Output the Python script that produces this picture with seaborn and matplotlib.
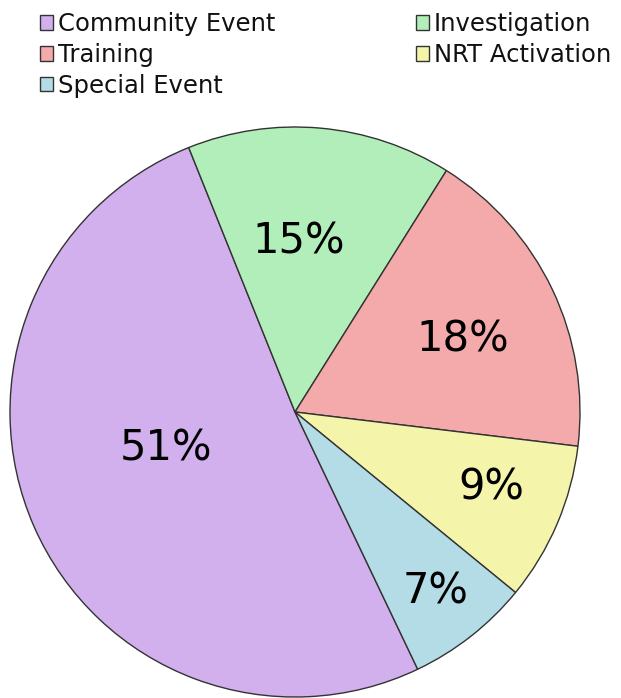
import numpy as np
import matplotlib.pyplot as plt
import seaborn as sns
from matplotlib.patches import Patch

# slice data (clockwise from the bottom-right edge of "Community Event")
categories = ["Community Event", "Investigation", "Training", "NRT Activation", "Special Event"]
shares = [51, 15, 18, 9, 7]
colors = ["#d1b0ed", "#b1eeb9", "#f4aaaa", "#f4f4aa", "#b4dce6"]

# percent label placement: radius fraction and angle nudge (degrees)
label_dist = [0.47, 0.60, 0.64, 0.74, 0.80]
label_nudge = [-8.0, 4.0, -2.0, 2.0, 0.0]

sns.set_theme(style="white")
plt.rcParams["font.family"] = ["DejaVu Sans"]

fig = plt.figure(figsize=(6.21, 6.98), dpi=100)
ax = fig.add_axes([10 / 621, 1 / 698, 570 / 621, 570 / 698])

palette = sns.color_palette(colors)
wedges, _ = ax.pie(shares, colors=palette, startangle=-64.5, counterclock=False,
                   radius=1, wedgeprops=dict(edgecolor="#333333", linewidth=1))

for w, s, d, n in zip(wedges, shares, label_dist, label_nudge):
    mid = np.deg2rad((w.theta1 + w.theta2) / 2 + n)
    ax.text(d * np.cos(mid), d * np.sin(mid), f"{s}%", ha="center", va="center",
            fontsize=30, color="black")

ax.set_xlim(-1.0, 1.0)
ax.set_ylim(-1.0, 1.0)
ax.set_aspect("auto")
ax.axis("off")

# legend filled row by row
order = [0, 2, 4, 1, 3]
handles = [Patch(facecolor=colors[i], edgecolor="#333333", linewidth=1) for i in order]
labels = [categories[i] for i in order]
leg = fig.legend(handles, labels, loc="upper left", bbox_to_anchor=(40 / 621, 1 - 12 / 698),
                 ncol=2, frameon=False, fontsize=17.5, handlelength=0.55, handleheight=0.55,
                 handletextpad=0.2, columnspacing=5.77, labelspacing=0.28, borderpad=0,
                 borderaxespad=0)
for t in leg.get_texts():
    t.set_color("#111111")

fig.savefig("out.png", dpi=100)
